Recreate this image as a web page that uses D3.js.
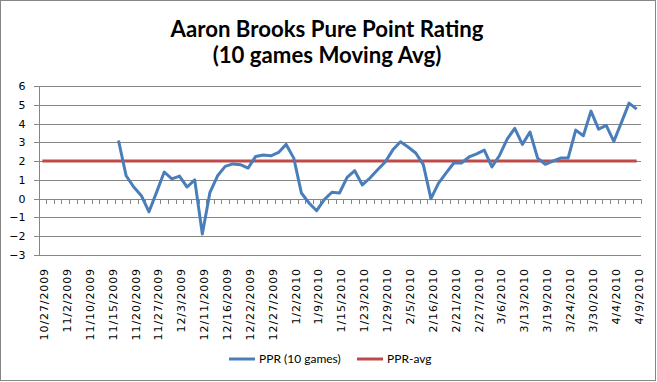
<!DOCTYPE html>
<html>
<head>
<meta charset="utf-8">
<script src="https://cdn.jsdelivr.net/npm/d3@7"></script>
<style>
  body { margin: 0; background: #fff; }
  svg { display: block; }
</style>
</head>
<body>
<div id="chart"></div>
<script>
// chart data
const titleLines = ["Aaron Brooks Pure Point Rating", "(10 games Moving Avg)"];
const seriesNames = ["PPR (10 games)", "PPR-avg"];

// every third game gets a date label (79 games in all)
const tickLabels = ["10/27/2009", "11/2/2009", "11/10/2009", "11/15/2009", "11/20/2009", "11/27/2009",
    "12/3/2009", "12/11/2009", "12/16/2009", "12/22/2009", "12/27/2009", "1/2/2010", "1/9/2010",
    "1/15/2010", "1/23/2010", "1/29/2010", "2/5/2010", "2/16/2010", "2/21/2010", "2/27/2010",
    "3/6/2010", "3/13/2010", "3/19/2010", "3/24/2010", "3/30/2010", "4/4/2010", "4/9/2010"];
const gameCount = 79;
const labelEvery = 3;

// moving average (first 10 games have no value)
const ppr = [null, null, null, null, null, null, null, null, null, null,
    3.1, 1.22, 0.62, 0.16, -0.7, 0.35, 1.42, 1.05, 1.2, 0.62,
    1.0, -1.88, 0.34, 1.22, 1.72, 1.85, 1.81, 1.63, 2.25, 2.32,
    2.28, 2.46, 2.89, 2.16, 0.3, -0.23, -0.64, -0.05, 0.34, 0.3,
    1.13, 1.49, 0.73, 1.1, 1.54, 1.95, 2.6, 3.03, 2.75, 2.43,
    1.81, 0.0, 0.83, 1.37, 1.9, 1.9, 2.22, 2.39, 2.59, 1.69,
    2.3, 3.17, 3.74, 2.89, 3.55, 2.16, 1.83, 2.0, 2.16, 2.16,
    3.65, 3.35, 4.66, 3.7, 3.9, 3.05, 4.06, 5.09, 4.77];
const pprAvg = 2;

const yTicks = [-3, -2, -1, 0, 1, 2, 3, 4, 5, 6];

// sizes
const W = 657, H = 382;
const plot = {left: 38.5, right: 640.5, top: 86, bottom: 255};
const colors = ["#4a7ebb", "#be4b48"];
const axisFont = "'DejaVu Sans', Verdana, sans-serif";
const titleFont = "Lato, 'Open Sans', sans-serif";

const games = d3.range(gameCount);

let svg = d3.select("#chart").append("svg")
    .attr("width", W)
    .attr("height", H);

// outer border
svg.append("rect")
    .attr("x", 0.5).attr("y", 0.5)
    .attr("width", W - 2).attr("height", H - 2)
    .attr("fill", "#fff")
    .attr("stroke", "#868686");

let x = d3.scaleBand()
    .domain(games)
    .range([plot.left, plot.right]);

let xEdge = d3.scaleLinear()
    .domain([0, gameCount])
    .range([plot.left, plot.right]);

let y = d3.scaleLinear()
    .domain([-3, 6])
    .range([plot.bottom, plot.top]);

// gridlines
svg.append("g")
    .attr("transform", "translate(" + plot.left + ",0)")
    .call(d3.axisRight(y).tickValues(yTicks).tickSize(plot.right - plot.left).tickFormat(""))
    .call(g => g.select(".domain").remove())
    .call(g => g.selectAll(".tick line").attr("stroke", "#868686").attr("shape-rendering", "crispEdges"));

// y axis
svg.append("g")
    .attr("transform", "translate(" + plot.left + ",0)")
    .call(d3.axisLeft(y).tickValues(yTicks).tickSize(5).tickPadding(8).tickSizeOuter(0))
    .call(g => g.select(".domain").attr("stroke", "#868686").attr("shape-rendering", "crispEdges"))
    .call(g => g.selectAll(".tick line").attr("stroke", "#868686").attr("shape-rendering", "crispEdges"))
    .call(g => g.selectAll(".tick text")
        .attr("fill", "#000")
        .style("font-family", axisFont)
        .style("font-size", "11px"));

// x axis along zero with a tick between every game
svg.append("g")
    .attr("transform", "translate(0," + y(0) + ")")
    .call(d3.axisBottom(xEdge).tickValues(d3.range(1, gameCount + 1)).tickSize(5).tickSizeOuter(0).tickFormat(""))
    .call(g => g.select(".domain").attr("stroke", "#868686").attr("shape-rendering", "crispEdges"))
    .call(g => g.selectAll(".tick line").attr("stroke", "#868686").attr("shape-rendering", "crispEdges"));

// date labels under the plot
svg.append("g")
    .attr("transform", "translate(2," + plot.bottom + ")")
    .call(d3.axisBottom(x)
        .tickValues(games.filter(d => d % labelEvery === 0))
        .tickSize(0)
        .tickFormat(d => tickLabels[d / labelEvery]))
    .call(g => g.select(".domain").remove())
    .call(g => g.selectAll(".tick text")
        .attr("fill", "#000")
        .attr("transform", "rotate(-90)")
        .attr("text-anchor", "end")
        .attr("x", -13)
        .attr("y", 0)
        .attr("dy", "0.35em")
        .style("font-family", axisFont)
        .style("font-size", "11px")
        .style("letter-spacing", "0.9px"));

// average line
let line = d3.line()
    .defined(d => d[1] != null)
    .x(d => x(d[0]) + x.bandwidth() / 2)
    .y(d => y(d[1]));

svg.append("path")
    .datum(games.map(d => [d, pprAvg]))
    .attr("fill", "none")
    .attr("stroke", colors[1])
    .attr("stroke-width", 3)
    .attr("d", line);

// PPR line
svg.append("path")
    .datum(games.map(d => [d, ppr[d]]))
    .attr("fill", "none")
    .attr("stroke", colors[0])
    .attr("stroke-width", 3)
    .attr("stroke-linejoin", "round")
    .attr("d", line);

// title, fitted to the width of the original
let title = svg.append("g");
titleLines.forEach(function (t, i) {
    title.append("text")
        .attr("x", 327)
        .attr("y", i === 0 ? 36.5 : 63)
        .attr("text-anchor", "middle")
        .style("font-family", titleFont)
        .style("font-weight", "bold")
        .style("font-size", "22px")
        .attr("fill", "#000")
        .text(t);
});
let t0 = title.select("text").node();
let fs = 22 * 313 / t0.getComputedTextLength();
title.selectAll("text").style("font-size", fs + "px");

// legend
let legendItems = [
    {name: seriesNames[0], color: colors[0], x: 229},
    {name: seriesNames[1], color: colors[1], x: 357}
];
let legend = svg.append("g");
legendItems.forEach(function (d) {
    legend.append("line")
        .attr("x1", d.x).attr("x2", d.x + 26)
        .attr("y1", 359).attr("y2", 359)
        .attr("stroke", d.color)
        .attr("stroke-width", 3);
    legend.append("text")
        .attr("x", d.x + 30)
        .attr("y", 363)
        .style("font-family", titleFont)
        .style("font-size", "12px")
        .attr("fill", "#000")
        .text(d.name);
});
</script>
</body>
</html>
